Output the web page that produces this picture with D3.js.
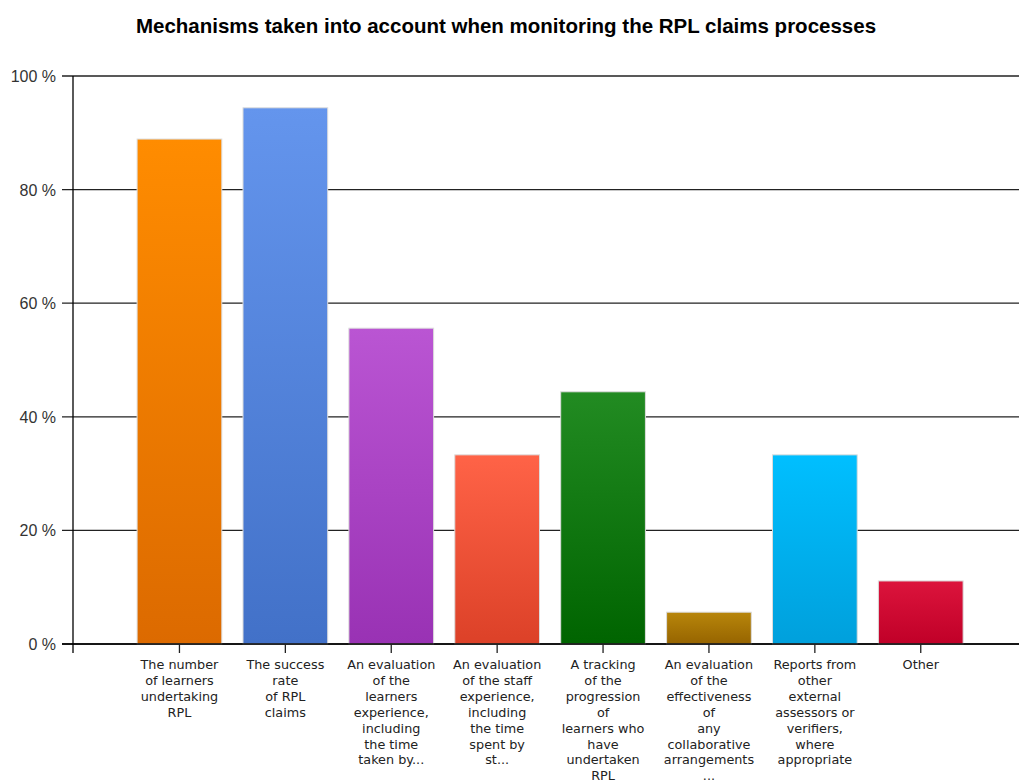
<!DOCTYPE html>
<html lang="en">
<head>
<meta charset="utf-8">
<title>Mechanisms taken into account when monitoring the RPL claims processes</title>
<style>
  body { margin: 0; background: #fff; }
  .title { font: bold 20.5px "Liberation Sans", Arial, sans-serif; fill: #000; }
  .ylab { font: 16px "Liberation Sans", Arial, sans-serif; fill: #333; }
  .xlab { font: 12.8px "DejaVu Sans", sans-serif; fill: #222; }
  .grid line { stroke: #222; stroke-width: 1.3px; }
</style>
<script src="https://d3js.org/d3.v7.min.js"></script>
</head>
<body>
<script>
const width = 1019, height = 781;

// data
const categories = [
  "The number\nof learners\nundertaking\nRPL",
  "The success\nrate\nof RPL\nclaims",
  "An evaluation\nof the\nlearners\nexperience,\nincluding\nthe time\ntaken by...",
  "An evaluation\nof the staff\nexperience,\nincluding\nthe time\nspent by\nst...",
  "A tracking\nof the\nprogression\nof\nlearners who\nhave\nundertaken\nRPL",
  "An evaluation\nof the\neffectiveness\nof\nany\ncollaborative\narrangements\n...",
  "Reports from\nother\nexternal\nassessors or\nverifiers,\nwhere\nappropriate",
  "Other"
];
const values = [88.9, 94.4, 55.6, 33.3, 44.4, 5.6, 33.3, 11.1];
const yTicks = [0, 20, 40, 60, 80, 100];
const topColors = ["#ff8c00", "#6495ed", "#ba55d3", "#ff6347", "#228b22", "#b8860b", "#00bfff", "#dc143c"];
const bottomColors = ["#dc6a00", "#4271c8", "#9932b4", "#dc4128", "#006400", "#966400", "#00a0dc", "#c00028"];

const svg = d3.select("body").append("svg")
    .attr("width", width)
    .attr("height", height);

const x = d3.scaleBand()
    .domain(d3.range(categories.length))
    .range([126.5, 973.7])
    .paddingInner(0.2)
    .paddingOuter(0.1);

const y = d3.scaleLinear()
    .domain([0, 100])
    .range([644, 76]);

const axisX = 73;

svg.append("text")
    .attr("class", "title")
    .attr("x", 506)
    .attr("y", 33)
    .attr("text-anchor", "middle")
    .text("Mechanisms taken into account when monitoring the RPL claims processes");

// gradients
const defs = svg.append("defs");
topColors.forEach((c, i) => {
  const g = defs.append("linearGradient")
      .attr("id", "grad" + i)
      .attr("x1", 0).attr("y1", 0).attr("x2", 0).attr("y2", 1);
  g.append("stop").attr("offset", "0%").attr("stop-color", c);
  g.append("stop").attr("offset", "100%").attr("stop-color", bottomColors[i]);
});

// grid lines + y ticks
const grid = svg.append("g").attr("class", "grid");
grid.selectAll("line")
    .data(yTicks)
    .enter()
    .append("line")
    .attr("x1", axisX - 11)
    .attr("x2", width)
    .attr("y1", d => y(d))
    .attr("y2", d => y(d));

svg.selectAll(".ylab")
    .data(yTicks)
    .enter()
    .append("text")
    .attr("class", "ylab")
    .attr("x", 56)
    .attr("y", d => y(d) + 6)
    .attr("text-anchor", "end")
    .text(d => d + " %");

// bars
svg.selectAll(".bar")
    .data(values)
    .enter()
    .append("rect")
    .attr("class", "bar")
    .attr("x", (d, i) => x(i))
    .attr("y", d => y(d))
    .attr("width", x.bandwidth())
    .attr("height", d => y(0) - y(d))
    .attr("fill", (d, i) => "url(#grad" + i + ")")
    .attr("stroke", "#dcdcdc")
    .attr("stroke-width", 1);

// axes lines
svg.append("line")
    .attr("x1", axisX).attr("x2", axisX)
    .attr("y1", y(100)).attr("y2", y(0) + 9)
    .attr("stroke", "#000").attr("stroke-width", 1.3);
svg.append("line")
    .attr("x1", axisX - 11).attr("x2", width)
    .attr("y1", y(0)).attr("y2", y(0))
    .attr("stroke", "#000").attr("stroke-width", 1.5);

// x ticks and labels
const xg = svg.append("g");
categories.forEach((c, i) => {
  const cx = x(i) + x.bandwidth() / 2;
  xg.append("line")
      .attr("x1", cx).attr("x2", cx)
      .attr("y1", y(0)).attr("y2", y(0) + 9)
      .attr("stroke", "#222").attr("stroke-width", 1.3);
  const t = xg.append("text")
      .attr("class", "xlab")
      .attr("text-anchor", "middle")
      .attr("x", cx)
      .attr("y", 669);
  c.split("\n").forEach((line, k) => {
    t.append("tspan")
        .attr("x", cx)
        .attr("dy", k === 0 ? 0 : 15.9)
        .text(line);
  });
});
</script>
</body>
</html>
